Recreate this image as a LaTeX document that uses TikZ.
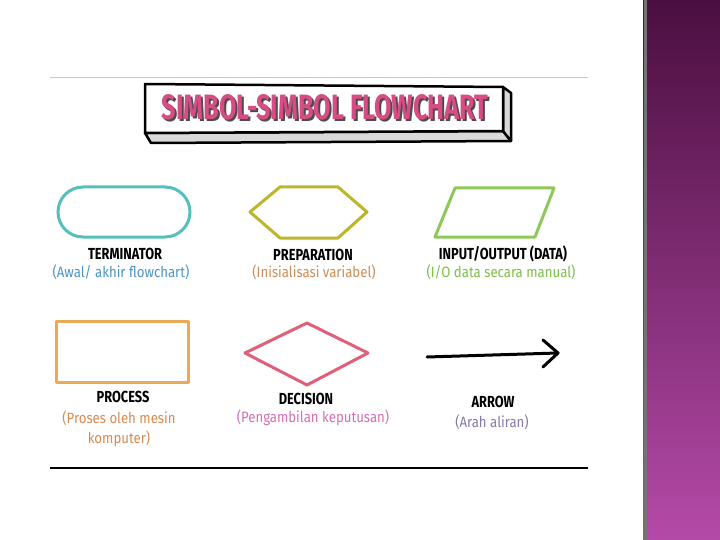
\documentclass[tikz,border=0pt]{standalone}
\usepackage{fontspec}
\setmainfont{Fira Sans}
\usepackage{graphicx}
\usetikzlibrary{positioning}

\definecolor{termcol}{HTML}{55C0BB}
\definecolor{prepcol}{HTML}{BDB52A}
\definecolor{iocol}{HTML}{8FC85A}
\definecolor{proccol}{HTML}{EAA955}
\definecolor{deccol}{HTML}{E0607A}
\definecolor{titlecol}{HTML}{D84C86}
\definecolor{termsub}{HTML}{4A95C8}
\definecolor{prepsub}{HTML}{CF8C55}
\definecolor{iosub}{HTML}{7DBF45}
\definecolor{procsub}{HTML}{D98A52}
\definecolor{decsub}{HTML}{D46FB5}
\definecolor{arrowsub}{HTML}{8878A8}
\definecolor{bandtop}{HTML}{4B0F40}
\definecolor{bandbot}{HTML}{B44AA8}

\tikzset{
  symline/.style={line width=3pt, line join=round},
  symname/.style={font=\bfseries\fontsize{16}{16}\selectfont, text=black, inner sep=0pt},
  symnote/.style={font=\fontsize{15}{20}\selectfont, align=center, inner sep=0pt},
}
\newcommand\squeeze[1]{\scalebox{0.8}[1]{#1}}
\newcommand\widen[1]{\scalebox{0.88}[1]{#1}}

\begin{document}
\begin{tikzpicture}[x=1pt,y=-1pt]
  \useasboundingbox (0,0) rectangle (720,540);
  \fill[white] (0,0) rectangle (720,540);

  % side band
  \shade[top color=bandtop, bottom color=bandbot] (643,0) rectangle (720,540);
  \draw[line width=3pt, black!55] (645,0) -- (645,540);

  % frame lines
  \draw[gray!45, line width=1pt] (50,78) -- (588,78);
  \draw[black, line width=1.5pt] (50,468) -- (588,468);

  % title banner
  \draw[line width=2.5pt, line join=round, fill=gray!30]
    (145,133) -- (503,131) -- (511,141) -- (151,143) -- cycle;
  \draw[line width=2.5pt, line join=round, fill=gray!30]
    (503,87) -- (511,93) -- (511,141) -- (503,131) -- cycle;
  \draw[line width=2.5pt, line join=round, fill=white]
    (145,84) -- (503,87) -- (503,131) -- (145,133) -- cycle;
  \node[text=black!70, inner sep=0pt] (titleshadow) at (327,109)
    {\resizebox{326pt}{25pt}{\bfseries SIMBOL-SIMBOL FLOWCHART}};
  \node[text=titlecol, inner sep=0pt] (title) at (325,107)
    {\resizebox{326pt}{25pt}{\bfseries SIMBOL-SIMBOL FLOWCHART}};

  % terminator
  \draw[symline, termcol, rounded corners=25pt] (58,187) rectangle (190,237);
  \node[symname] (termname) at (125,254) {\squeeze{TERMINATOR}};
  \node[symnote, text=termsub] (termnote) at (121,272) {\widen{(Awal/ akhir flowchart)}};

  % preparation
  \draw[symline, prepcol] (250,212) -- (280,187) -- (338,187) -- (367,212)
    -- (338,238) -- (280,238) -- cycle;
  \node[symname] (prepname) at (313,255) {\squeeze{PREPARATION}};
  \node[symnote, text=prepsub] (prepnote) at (314,272) {\widen{(Inisialisasi variabel)}};

  % input / output
  \draw[symline, iocol] (455,188) -- (554,188) -- (535,237) -- (435,237) -- cycle;
  \node[symname] (ioname) at (503,254) {\squeeze{INPUT/OUTPUT (DATA)}};
  \node[symnote, text=iosub] (ionote) at (501,272) {\widen{(I/O data secara manual)}};

  % process
  \draw[symline, proccol] (56,321) rectangle (188,382);
  \node[symname] (procname) at (123,397) {\squeeze{PROCESS}};
  \node[symnote, text=procsub] (procnote) at (119,429)
    {\widen{(Proses oleh mesin}\\\widen{komputer)}};

  % decision
  \draw[symline, deccol] (245,353) -- (307,323) -- (368,353) -- (307,385) -- cycle;
  \node[symname] (decname) at (306,399) {\squeeze{DECISION}};
  \node[symnote, text=decsub] (decnote) at (313,418) {\widen{(Pengambilan keputusan)}};

  % arrow
  \coordinate (arrowtail) at (427,357);
  \coordinate (arrowtip) at (558,353);
  \draw[line width=3pt, line cap=round] (arrowtail) -- (arrowtip);
  \draw[line width=3pt, line cap=round, line join=round]
    (543,340) -- (arrowtip) -- (543,367);
  \node[symname] (arrowname) at (493,402) {\squeeze{ARROW}};
  \node[symnote, text=arrowsub] (arrownote) at (492,422) {\widen{(Arah aliran)}};
\end{tikzpicture}
\end{document}
